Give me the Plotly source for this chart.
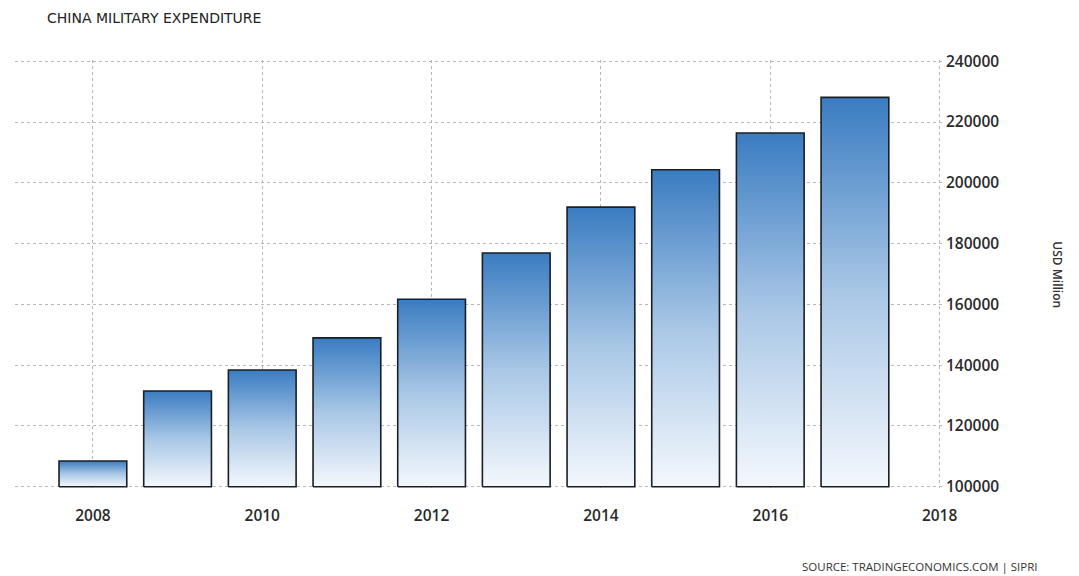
import plotly.graph_objects as go

years = [2008, 2009, 2010, 2011, 2012, 2013, 2014, 2015, 2016, 2017]
spending = [108500, 131500, 138400, 149000, 161700, 176900, 192000, 204300, 216400, 228100]
y_ticks = [100000, 120000, 140000, 160000, 180000, 200000, 220000, 240000]
x_ticks = [2008, 2010, 2012, 2014, 2016, 2018]

BASE = 100000
HALF = 0.4

fig = go.Figure()
for yr, val in zip(years, spending):
    fig.add_trace(go.Scatter(
        x=[yr - HALF, yr - HALF, yr + HALF, yr + HALF, yr - HALF],
        y=[BASE, val, val, BASE, BASE],
        mode="lines",
        fill="toself",
        fillgradient=dict(type="vertical",
                          colorscale=[[0, "#f4f8fd"], [0.5, "#a9c7e6"], [1, "#3a7cc1"]]),
        line=dict(color="#1a1f26", width=1.6),
        hoverinfo="skip",
        showlegend=False,
    ))

tickfont = dict(size=15.5, color="#2a2a2a", family="Open Sans", weight=600)

fig.update_layout(
    width=1079, height=576,
    margin=dict(l=15, r=136, t=60, b=88),
    paper_bgcolor="white", plot_bgcolor="white",
    font=dict(family="Open Sans", color="#333"),
    xaxis=dict(range=[2007.08, 2018.04], tickvals=x_ticks, ticktext=[str(v) for v in x_ticks],
               showgrid=True, gridcolor="#b8b8b8", griddash="dot", gridwidth=1,
               zeroline=False, showline=False, ticks="", ticklabelstandoff=16,
               tickfont=tickfont),
    yaxis=dict(range=[99600, 240400], tickvals=y_ticks, ticktext=[str(v) for v in y_ticks],
               side="right", showgrid=True, gridcolor="#b8b8b8", griddash="dot", gridwidth=1,
               zeroline=False, showline=False,
               ticks="", ticklabelstandoff=2,
               tickfont=tickfont),
    annotations=[
        dict(text="CHINA MILITARY EXPENDITURE", xref="paper", yref="paper",
             x=0, y=1, xshift=30, yshift=42, xanchor="left", yanchor="middle", showarrow=False,
             font=dict(size=14, color="#222", family="DejaVu Sans")),
        dict(text="USD Million", xref="paper", yref="paper", x=1, y=0.498,
             xshift=125, textangle=90, showarrow=False,
             font=dict(size=12, color="#333", family="Open Sans", weight=600)),
        dict(text="SOURCE: TRADINGECONOMICS.COM | SIPRI", xref="paper", yref="paper",
             x=1, y=0, xshift=97, yshift=-78, xanchor="right", yanchor="middle",
             showarrow=False, font=dict(size=11.5, color="#333", family="Open Sans")),
    ],
)

fig.write_html("out.html")
